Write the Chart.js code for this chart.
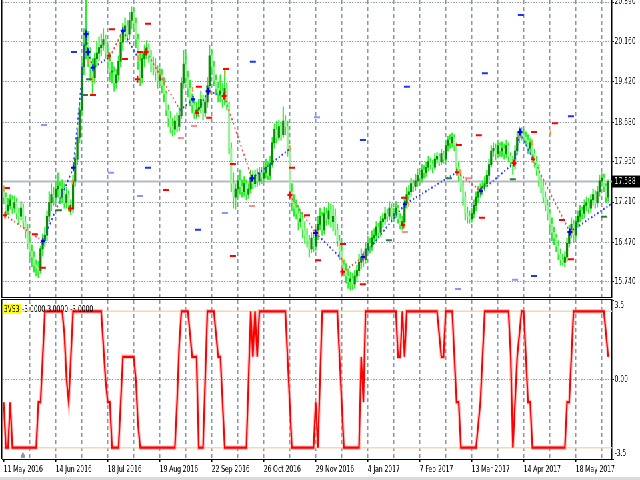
<!DOCTYPE html>
<html>
<head>
<meta charset="utf-8">
<title>3VS3</title>
<script src="https://cdn.jsdelivr.net/npm/chart.js@4.4.1/dist/chart.umd.min.js"></script>
<style>
html,body{margin:0;padding:0;background:#ffffff;width:640px;height:480px;overflow:hidden;}
#wrap{position:absolute;left:0;top:0;width:960px;height:480px;transform:scaleX(0.6666667);transform-origin:0 0;}
#c1{position:absolute;left:0;top:0;width:960px;height:298px;}
#c2{position:absolute;left:0;top:298px;width:960px;height:182px;}
#strip{position:absolute;left:0;top:477px;width:640px;height:3px;background:#dadada;}
</style>
</head>
<body>
<div id="wrap">
<canvas id="c1" width="960" height="298"></canvas>
<canvas id="c2" width="960" height="182"></canvas>
</div>
<div id="strip"></div>
<script>
// ---------- DATA ----------
const dateLabels = ['11 May 2016','14 Jun 2016','18 Jul 2016','19 Aug 2016','22 Sep 2016','26 Oct 2016','29 Nov 2016','4 Jan 2017','7 Feb 2017','13 Mar 2017','14 Apr 2017','18 May 2017'];
const priceTicks = [20.890, 20.160, 19.420, 18.680, 17.950, 17.210, 16.470, 15.740];
const indTicks = [3.5, 0, -3.5];
const currentPrice = 17.588;
const indName = '3VS3';
const indValues = '-3.0000 3.0000 -3.0000';
const levels = [3, -3];

const opens = [17.40,17.30,17.05,17.15,17.25, 17.10,17.20,17.00,16.95,17.10, 16.85,16.70,16.45,16.30,16.20, 16.05,16.00,15.95,16.35,16.50,
16.60,16.95,17.20,17.35,17.30, 17.45,17.50,17.30,17.45,17.20, 17.35,17.15,17.08,17.60,18.00, 18.40,18.90,19.70,20.10,20.25,
19.95,19.70,19.50,19.85,19.95, 20.05,20.10,20.20,19.95,19.80, 19.60,19.60,19.40,19.55,19.80, 20.15,20.35,20.45,20.30,20.55,
20.70,20.50,20.20,19.80,19.50, 19.85,19.95,20.05,19.90,19.75, 19.70,19.60,19.45,19.55,19.35, 19.20,18.90,18.75,18.60,18.55,
18.70,18.60,18.80,19.40,19.75, 19.50,19.30,19.10,19.00,18.85, 18.90,18.95,19.10,18.85,19.05, 19.35,19.90,19.70,19.45,19.30,
19.20,19.25,19.10,19.30,19.00, 18.20,17.55,17.30,17.45,17.60, 17.50,17.40,17.55,17.35,17.45, 17.65,17.55,17.70,17.60,17.75,
17.65,17.75,17.85,17.70,17.90, 18.30,18.55,18.40,18.60,18.45, 18.70,18.60,18.15,17.40,17.20, 17.10,17.00,16.85,16.90,16.70,
16.60,16.50,16.35,16.55,16.40, 16.60,16.80,16.95,16.70,17.00, 16.90,17.05,16.85,16.95,16.70, 16.50,16.30,16.05,15.95,15.85,
15.75,15.80,15.70,15.85,15.95, 16.10,16.20,16.15,16.35,16.45, 16.40,16.55,16.60,16.75,16.65, 16.85,16.90,17.00,16.95,17.10,
16.95,17.00,17.10,16.90,16.80, 16.85,17.20,17.35,17.40,17.55, 17.50,17.60,17.70,17.65,17.80, 17.75,17.85,17.95,17.90,17.85,
18.00,18.05,17.95,18.10,18.00, 18.25,18.35,18.30,18.40,18.25, 17.85,17.70,17.50,17.30,17.00, 16.95,16.90,17.00,17.15,17.30,
17.40,17.45,17.50,17.55,17.70, 17.90,18.15,18.20,18.10,18.25, 18.15,18.20,18.10,18.25,18.05, 17.95,17.90,18.15,18.40,18.50,
18.45,18.40,18.35,18.20,18.30, 18.10,17.95,17.80,17.60,17.50, 17.30,17.15,17.00,16.80,16.65, 16.55,16.40,16.25,16.15,16.10,
16.20,16.45,16.65,16.80,16.60, 16.85,16.95,17.05,17.00,17.15, 17.20,17.10,17.25,17.35,17.20, 17.40,17.60,17.65,17.50,17.30];

const highs = [17.50,17.38,17.28,17.35,17.33, 17.32,17.28,17.10,17.22,17.18, 16.95,16.80,16.60,16.42,16.30, 16.15,16.12,16.40,16.62,16.75,
17.05,17.40,17.55,17.48,17.60, 17.75,17.58,17.62,17.55,17.48, 17.42,17.25,17.70,18.10,18.55, 19.05,19.85,20.40,20.92,20.35,
20.05,19.85,19.95,20.15,20.25, 20.30,20.40,20.28,20.10,19.95, 19.78,19.70,19.65,19.90,20.30, 20.50,20.60,20.55,20.70,20.80,
20.78,20.60,20.30,19.95,19.95, 20.10,20.18,20.12,20.00,19.88, 19.85,19.72,19.68,19.65,19.50, 19.25,19.00,18.88,18.75,18.80,
18.85,18.95,19.50,20.00,19.95, 19.62,19.45,19.20,19.10,19.05, 19.10,19.25,19.18,19.15,19.50, 20.10,20.00,19.80,19.55,19.42,
19.55,19.40,19.65,19.40,19.05, 18.30,17.75,17.55,17.70,17.80, 17.62,17.68,17.62,17.55,17.80, 17.78,17.80,17.82,17.85,17.85,
17.90,18.00,17.95,18.05,18.40, 18.65,18.70,18.72,18.68,18.96, 18.80,18.70,18.25,17.55,17.35, 17.25,17.15,17.05,17.00,16.85,
16.72,16.60,16.65,16.65,16.75, 16.95,17.10,17.02,17.12,17.10, 17.20,17.18,17.15,17.08,16.80, 16.60,16.40,16.15,16.08,15.98,
15.92,15.90,15.95,16.05,16.25, 16.35,16.30,16.45,16.58,16.55, 16.68,16.72,16.85,16.82,16.95, 17.00,17.12,17.08,17.22,17.18,
17.10,17.22,17.15,17.00,16.95, 17.30,17.48,17.52,17.65,17.62, 17.72,17.82,17.78,17.90,17.88, 17.95,18.05,18.02,17.98,18.10,
18.12,18.10,18.18,18.15,18.35, 18.42,18.45,18.48,18.45,18.30, 17.95,17.80,17.60,17.40,17.12, 17.05,17.10,17.25,17.40,17.50,
17.55,17.60,17.68,17.80,18.00, 18.25,18.30,18.28,18.35,18.30, 18.32,18.28,18.35,18.30,18.12, 18.05,18.25,18.50,18.59,18.58,
18.55,18.50,18.45,18.38,18.35, 18.18,18.05,17.90,17.70,17.58, 17.40,17.25,17.08,16.92,16.75, 16.62,16.50,16.35,16.25,16.30,
16.55,16.78,16.92,16.88,16.95, 17.05,17.15,17.12,17.25,17.30, 17.28,17.35,17.45,17.42,17.50, 17.70,17.75,17.72,17.55,17.62];

const lows = [17.18,16.95,16.98,17.08,17.00, 17.02,16.90,16.80,16.88,16.75, 16.55,16.35,16.15,16.02,15.92, 15.85,15.82,15.90,16.22,16.40,
16.50,16.85,17.05,17.15,17.20, 17.30,17.18,17.20,17.10,17.10, 17.05,16.98,17.02,17.50,17.90, 18.30,18.80,19.55,19.85,19.70,
19.45,19.20,19.40,19.70,19.80, 19.90,20.00,19.85,19.65,19.45, 19.40,19.25,19.30,19.45,19.70, 20.00,20.20,20.15,20.20,20.40,
20.35,20.05,19.65,19.35,19.40, 19.70,19.85,19.78,19.60,19.55, 19.45,19.30,19.35,19.22,19.05, 18.80,18.60,18.48,18.42,18.45,
18.50,18.52,18.75,19.30,19.40, 19.15,18.98,18.85,18.75,18.75, 18.78,18.85,18.72,18.78,18.95, 19.25,19.55,19.35,19.18,19.05,
19.05,18.95,19.00,18.90,18.10, 17.40,17.10,17.08,17.30,17.35, 17.30,17.32,17.25,17.28,17.38, 17.45,17.48,17.50,17.52,17.55,
17.58,17.65,17.62,17.62,17.85, 18.20,18.30,18.35,18.35,18.40, 18.45,18.05,17.30,17.05,16.95, 16.90,16.70,16.75,16.55,16.45,
16.38,16.20,16.28,16.30,16.32, 16.52,16.70,16.60,16.62,16.78, 16.80,16.75,16.68,16.60,16.40, 16.15,15.95,15.85,15.72,15.62,
15.59,15.60,15.62,15.75,15.85, 15.98,16.02,16.08,16.25,16.28, 16.32,16.45,16.52,16.55,16.58, 16.75,16.80,16.85,16.88,16.88,
16.85,16.92,16.82,16.72,16.70, 16.80,17.10,17.25,17.32,17.40, 17.42,17.50,17.55,17.58,17.65, 17.68,17.78,17.82,17.75,17.80,
17.92,17.88,17.90,17.92,17.95, 18.15,18.20,18.22,18.15,17.75, 17.60,17.40,17.15,16.88,16.82, 16.82,16.84,16.92,17.05,17.20,
17.30,17.35,17.42,17.48,17.62, 17.85,18.05,17.98,18.02,18.05, 18.05,18.00,18.02,17.95,17.85, 17.72,17.82,18.08,18.30,18.35,
18.30,18.25,18.10,18.12,18.00, 17.85,17.70,17.50,17.38,17.20, 17.05,16.88,16.68,16.50,16.42, 16.30,16.15,16.05,16.05,16.02,
16.12,16.38,16.55,16.48,16.55, 16.75,16.85,16.90,16.92,17.05, 17.00,17.02,17.15,17.10,17.12, 17.32,17.50,17.40,17.20,17.22];

const closes = [17.30,17.05,17.15,17.25,17.10, 17.20,17.00,16.95,17.10,16.85, 16.70,16.45,16.30,16.20,16.05, 16.00,15.95,16.35,16.50,16.60,
16.95,17.20,17.35,17.30,17.45, 17.50,17.30,17.45,17.20,17.35, 17.15,17.08,17.60,18.00,18.40, 18.90,19.70,20.10,20.25,19.95,
19.70,19.50,19.85,19.95,20.05, 20.10,20.20,19.95,19.80,19.60, 19.60,19.40,19.55,19.80,20.15, 20.35,20.45,20.30,20.55,20.70,
20.50,20.20,19.80,19.50,19.85, 19.95,20.05,19.90,19.75,19.70, 19.60,19.45,19.55,19.35,19.20, 18.90,18.75,18.60,18.55,18.70,
18.60,18.80,19.40,19.75,19.50, 19.30,19.10,19.00,18.85,18.90, 18.95,19.10,18.85,19.05,19.35, 19.90,19.70,19.45,19.30,19.20,
19.25,19.10,19.30,19.00,18.20, 17.55,17.30,17.45,17.60,17.50, 17.40,17.55,17.35,17.45,17.65, 17.55,17.70,17.60,17.75,17.65,
17.75,17.85,17.70,17.90,18.30, 18.55,18.40,18.60,18.45,18.70, 18.60,18.15,17.40,17.20,17.10, 17.00,16.85,16.90,16.70,16.60,
16.50,16.35,16.55,16.40,16.60, 16.80,16.95,16.70,17.00,16.90, 17.05,16.85,16.95,16.70,16.50, 16.30,16.05,15.95,15.85,15.75,
15.80,15.70,15.85,15.95,16.10, 16.20,16.15,16.35,16.45,16.40, 16.55,16.60,16.75,16.65,16.85, 16.90,17.00,16.95,17.10,16.95,
17.00,17.10,16.90,16.80,16.85, 17.20,17.35,17.40,17.55,17.50, 17.60,17.70,17.65,17.80,17.75, 17.85,17.95,17.90,17.85,18.00,
18.05,17.95,18.10,18.00,18.25, 18.35,18.30,18.40,18.25,17.85, 17.70,17.50,17.30,17.00,16.95, 16.90,17.00,17.15,17.30,17.40,
17.45,17.50,17.55,17.70,17.90, 18.15,18.20,18.10,18.25,18.15, 18.20,18.10,18.25,18.05,17.95, 17.90,18.15,18.40,18.50,18.45,
18.40,18.35,18.20,18.30,18.10, 17.95,17.80,17.60,17.50,17.30, 17.15,17.00,16.80,16.65,16.55, 16.40,16.25,16.15,16.10,16.20,
16.45,16.65,16.80,16.60,16.85, 16.95,17.05,17.00,17.15,17.20, 17.10,17.25,17.35,17.20,17.40, 17.60,17.65,17.50,17.30,17.588];

const indicator = [-1,-3,-3,-1,
-3,-3,-3,-3,-3,-3,-3,-3,-3,-3,-3,-3,
-1,-1,1,
3,3,3,3,3,3,3,3,3,
2,0,-1,1,
3,3,3,3,3,3,3,3,3,3,3,3,3,3,
1.5,0,-1,-1,
-3,-3,-3,-3,
-1,1,
1,1,1,1,1,
0,-2,
-3,-3,-3,-3,-3,-3,-3,-3,-3,-3,-3,-3,-3,-3,-3,-3,-3,
-1,1.5,
3,3,3,3,
2,
1,1,1,
-3,-3,-3,
0,
3,3,3,3,
2,1,1,-1,
-3,-3,-3,-3,-3,-3,-3,-3,-3,-3,-3,
0,3,1,3,1,
3,3,3,3,3,3,3,3,3,3,3,3,3,
1,-1,
-3,-3,-3,-3,-3,-3,-3,-3,-3,-3,-3,
-1,-3,0,
3,3,3,3,3,3,3,3,
1,-1,
-3,-3,-3,-3,-3,-3,-3,-3,
1,-1,
3,3,3,3,3,3,3,3,3,3,3,3,3,3,3,
1,1,3,1,
3,3,3,3,3,3,3,3,3,3,3,3,3,3,3,
2,1,1,
3,3,3,3,
1,-1,-1,
-3,-3,-3,-3,-3,-3,-3,-3,
-2,-1,1,
3,3,3,3,3,3,3,3,3,3,3,3,
1,-3,-1,1,2,3,3,
1,-1,-1,
-3,-3,-3,-3,-3,-3,-3,-3,-3,-3,-3,-3,-3,-3,-3,-3,
-1,-1,1,
3,3,3,3,3,3,3,3,3,3,3,3,3,3,3,
2,1];

// zigzag legs: [bar, price, bar, price, ...]
const redLegs = [
  [0.6,16.97, 18.1,16.49],
  [49,19.88, 55,20.36],
  [66,19.97, 81.4,18.90],
  [101.7,19.16, 114.6,17.65],
  [132,17.34, 144,16.64],
  [156.6,15.92, 165.8,16.20],
  [209.2,17.76, 220.3,17.41],
  [244.3,18.00, 261.3,16.66]
];
const blueLegs = [
  [18.1,16.49, 32.1,17.84, 38,20.30, 38.9,19.97, 41.2,19.68, 49,19.88],
  [55,20.36, 62,19.86],
  [81.4,18.90, 87.4,19.10],
  [89.2,18.85, 94.3,19.25, 99.8,19.18],
  [114.6,17.65, 132.1,18.19],
  [144,16.64, 156.6,16.14],
  [165.8,16.20, 185.2,17.17, 209.2,17.76],
  [220.3,17.41, 235.5,17.93, 238.3,18.50, 244.3,18.00],
  [261.3,16.66, 280.2,17.17]
];
const redCrosses = [[0.6,16.97],[30.7,17.09],[48.6,19.90],[61.8,19.47],[65.7,19.97],[89.2,18.85],[101.7,19.16],[132.1,17.34],[156.4,15.93],[184.3,16.79],[209.2,17.76],[235.5,17.93],[244.3,18.00]];
const blueCrosses = [[18.1,16.49],[32.1,17.84],[38,20.30],[38.9,19.97],[41.2,19.68],[55,20.36],[87.4,19.10],[94.3,19.25],[114.6,17.65],[144,16.64],[165.8,16.20],[185.2,17.17],[220.3,17.41],[238.3,18.50],[261.3,16.66]];
const orangeMarks = [[0,17.47],[31.8,17.58],[38.9,19.80],[41.2,19.47],[62,19.86],[87.2,19.28],[95.2,19.24],[102.1,19.58],[132.1,18.19],[145.2,16.64],[156.4,16.14],[166.3,16.21],[184.8,16.77],[186.9,17.17],[210.6,17.77],[221,17.42],[236,17.95],[238,18.41],[243.9,18.29],[252.4,18.48],[262.1,16.65]];
const dashRed = [[1.5,17.47],[14.4,16.62],[18.1,16.00],[41.2,19.18],[50,20.39],[66.6,20.49],[62.9,19.97],[56,19.84],[90.1,19.33],[94.8,18.76],[74.9,17.43],[102.6,19.66],[105.8,17.91],[133,17.84],[105.8,16.22],[140,16.97],[145,16.14],[156.6,16.44],[165.8,15.70],[184.7,17.29],[210.1,18.26],[219.3,18.44],[244.7,18.50],[254.4,18.66],[220.7,16.92],[257.6,16.88],[261.8,16.16]];
const dashPink = [[81.8,18.39],[87.8,18.61],[114.6,17.14],[185.2,16.66],[214.3,17.65]];
const dashBlue = [[32.4,19.97],[66.6,17.84],[89.7,16.70],[115,19.79],[165.8,18.35],[186.1,19.33],[261.8,18.79],[244.7,15.85],[238.7,20.65],[222.1,19.58]];
const dashLightBlue = [[18.6,18.63],[49.5,17.75],[62.9,17.32],[144.6,18.77],[102.1,17.01],[236,15.78],[209.7,15.61]];
const dashGreen = [[25.5,17.06],[37.5,19.18],[39.4,19.47],[177.8,16.51],[235,17.63],[277,16.94],[205.5,17.65]];
const shiftMark = [[8.9,-3.35]];

// ---------- STYLE / LAYOUT ----------
Chart.defaults.font.family = '"DejaVu Sans", sans-serif';
Chart.defaults.font.size = 9;
Chart.defaults.color = '#000';
const GRID_COLOR = '#8c97a4';
const X_MIN = -0.554, X_MAX = 280.75;
const GRID_STEP = 12, LABEL_STEP = 24;
const gridTicks = [];
for (let v = 0; v <= X_MAX; v += GRID_STEP) gridTicks.push(v);

const toXY = arr => arr.map(p => ({x: p[0], y: p[1]}));
function polyData(list) {
  const out = [];
  list.forEach(p => {
    for (let k = 0; k < p.length; k += 2) out.push({x: p[k], y: p[k + 1]});
    out.push({x: p[p.length - 2], y: null});
  });
  return out;
}

const idx = closes.map((_, i) => i);
const wickData = idx.map(i => ({x: i, y: [lows[i], highs[i]]}));
const bodyData = idx.map(i => ({x: i, y: [opens[i], closes[i]]}));
const bodyColors = idx.map(i => closes[i] >= opens[i] ? '#078a07' : '#9cf09c');
const indData = idx.map(i => ({x: i, y: indicator[i]}));

function xScale(showLabels) {
  return {
    type: 'linear', min: X_MIN, max: X_MAX, offset: false,
    afterBuildTicks: s => { s.ticks = gridTicks.map(v => ({value: v})); },
    afterFit: s => { s.paddingLeft = 0; s.paddingRight = 0; s.paddingTop = 0; s.paddingBottom = 0; s.height = showLabels ? 21 : 0; },
    grid: {
      offset: false,
      color: c => (c.tick && c.tick.value === 0) ? 'rgba(0,0,0,0)' : GRID_COLOR,
      lineWidth: 1.5,
      drawTicks: showLabels, tickLength: 3, tickWidth: 1.5,
      tickColor: c => (c.tick && c.tick.value % LABEL_STEP === 0) ? '#000' : 'rgba(0,0,0,0)'
    },
    border: {display: showLabels, color: '#000', width: 1, dash: [4, 3]},
    ticks: {
      display: showLabels, autoSkip: false, maxRotation: 0, minRotation: 0,
      align: 'start', padding: 2, color: '#000', font: {size: 9},
      callback: v => (v % LABEL_STEP === 0 && dateLabels[v / LABEL_STEP] !== undefined) ? dateLabels[v / LABEL_STEP] : ''
    }
  };
}

const framePlugin1 = {
  id: 'frame1',
  afterDraw(chart) {
    const {ctx, chartArea: a, scales: {y}} = chart;
    ctx.save();
    ctx.strokeStyle = '#000';
    ctx.lineWidth = 1.5;
    ctx.beginPath(); ctx.moveTo(a.left - 1, 0); ctx.lineTo(a.left - 1, a.bottom + 1); ctx.stroke();
    ctx.lineWidth = 1;
    ctx.beginPath(); ctx.moveTo(a.left - 1.75, a.bottom + 0.5); ctx.lineTo(a.right, a.bottom + 0.5); ctx.stroke();
    const py = y.getPixelForValue(currentPrice);
    ctx.fillStyle = '#000';
    ctx.fillRect(a.right, py - 6, 42, 12);
    ctx.fillStyle = '#fff';
    ctx.font = '9px "DejaVu Sans"';
    ctx.textBaseline = 'middle';
    ctx.textAlign = 'left';
    ctx.fillText(currentPrice.toFixed(3), a.right + 4, py + 0.5);
    ctx.restore();
  }
};

const framePlugin2 = {
  id: 'frame2',
  afterDraw(chart) {
    const {ctx, chartArea: a} = chart;
    ctx.save();
    ctx.strokeStyle = '#000';
    ctx.lineWidth = 1;
    ctx.beginPath(); ctx.moveTo(a.left - 1.75, 1.5); ctx.lineTo(a.right, 1.5); ctx.stroke();
    ctx.lineWidth = 1.5;
    ctx.beginPath(); ctx.moveTo(a.left - 1, 1); ctx.lineTo(a.left - 1, a.bottom); ctx.stroke();
    ctx.font = '9px "DejaVu Sans"';
    ctx.textBaseline = 'middle';
    ctx.textAlign = 'left';
    const w = ctx.measureText(indName).width;
    ctx.fillStyle = '#ffff00';
    ctx.fillRect(a.left, 6, w + 4, 10);
    ctx.fillStyle = '#000';
    ctx.fillText(indName, a.left + 2, 11.5);
    ctx.fillText(indValues, a.left + w + 6, 11.5);
    ctx.restore();
  }
};

function pts(data, style, radius, bw, color, order, rot) {
  return {type: 'line', data: toXY(data), showLine: false, pointStyle: style, pointRadius: radius,
    pointBorderWidth: bw, pointBorderColor: color, pointBackgroundColor: color, pointRotation: rot || 0, order: order};
}

new Chart(document.getElementById('c1'), {
  type: 'bar',
  data: {
    datasets: [
      {type: 'line', data: [{x: X_MIN, y: currentPrice}, {x: X_MAX, y: currentPrice}], borderColor: '#b3bac2', borderWidth: 2, pointRadius: 0, order: 10},
      {type: 'bar', data: wickData, backgroundColor: '#2aee2a', barThickness: 1.5, grouped: false, order: 9},
      {type: 'bar', data: bodyData, backgroundColor: bodyColors, barThickness: 2.6, grouped: false, minBarLength: 1, order: 8},
      {type: 'line', data: polyData(redLegs), borderColor: '#ff4a4a', borderWidth: 2, borderDash: [2, 3], pointRadius: 0, spanGaps: false, order: 5},
      {type: 'line', data: polyData(blueLegs), borderColor: '#2f3fff', borderWidth: 2, borderDash: [2, 3], pointRadius: 0, spanGaps: false, order: 5},
      pts(dashRed, 'line', 4.5, 2, '#ff0000', 3),
      pts(dashPink, 'line', 4.5, 2, '#ff8c8c', 3),
      pts(dashBlue, 'line', 4.5, 2, '#1e32ff', 3),
      pts(dashLightBlue, 'line', 4.5, 2, '#8a94ff', 3),
      pts(dashGreen, 'line', 4.5, 2, '#2f7a3a', 3),
      pts(orangeMarks, 'line', 2.5, 2.5, '#f0a030', 2, 90),
      pts(redCrosses, 'cross', 3.5, 2, '#ff0000', 1),
      pts(blueCrosses, 'cross', 3.5, 2, '#0000ff', 1)
    ]
  },
  options: {
    responsive: false, animation: false, events: [],
    layout: {padding: {left: 3.75, right: 0, top: 0, bottom: 1}, autoPadding: false},
    plugins: {legend: {display: false}, tooltip: {enabled: false}},
    scales: {
      x: xScale(false),
      y: {
        type: 'linear', position: 'right', min: 15.464, max: 20.927,
        afterBuildTicks: s => { s.ticks = priceTicks.map(v => ({value: v})); },
        afterFit: s => { s.width = 42; s.paddingTop = 0; s.paddingBottom = 0; },
        grid: {color: GRID_COLOR, lineWidth: 1, drawTicks: true, tickLength: 3, tickColor: '#000', tickWidth: 1},
        border: {display: true, color: '#000', width: 1.5, dash: [2, 2]},
        ticks: {padding: 1, color: '#000', font: {size: 9}, callback: v => v.toFixed(3)}
      }
    }
  },
  plugins: [framePlugin1]
});

new Chart(document.getElementById('c2'), {
  type: 'line',
  data: {
    datasets: [
      {data: [{x: X_MIN, y: levels[0]}, {x: X_MAX, y: levels[0]}], borderColor: '#f5d8ac', borderWidth: 1.5, pointRadius: 0, order: 5},
      {data: [{x: X_MIN, y: levels[1]}, {x: X_MAX, y: levels[1]}], borderColor: '#f5d8ac', borderWidth: 1.5, pointRadius: 0, order: 5},
      {data: indData, borderColor: 'rgba(255,130,130,0.5)', borderWidth: 4.5, pointRadius: 0, order: 4},
      {data: indData, borderColor: '#ff0000', borderWidth: 2.2, pointRadius: 0, order: 3},
      {data: toXY(shiftMark), showLine: false, pointStyle: 'triangle', pointRadius: 3.5, pointBorderWidth: 1, pointBorderColor: '#8896a4', pointBackgroundColor: '#8896a4', clip: false, order: 1}
    ]
  },
  options: {
    responsive: false, animation: false, events: [],
    layout: {padding: {left: 3.75, right: 0, top: 2, bottom: 0}, autoPadding: false},
    plugins: {legend: {display: false}, tooltip: {enabled: false}},
    scales: {
      x: xScale(true),
      y: {
        type: 'linear', position: 'right', min: -3.5, max: 3.5,
        afterBuildTicks: s => { s.ticks = indTicks.map(v => ({value: v})); },
        afterFit: s => { s.width = 42; s.paddingTop = 0; s.paddingBottom = 0; },
        grid: {color: c => (c.tick && c.tick.value === 0) ? GRID_COLOR : 'rgba(0,0,0,0)', lineWidth: 1, drawTicks: true, tickLength: 3, tickColor: '#000', tickWidth: 1},
        border: {display: true, color: '#000', width: 1.5, dash: [2, 2]},
        ticks: {
          padding: 1, color: '#000', font: {size: 9},
          callback: v => v === indTicks[0] ? ['', v.toFixed(1)] : (v === indTicks[2] ? [v.toFixed(1), ''] : v.toFixed(2))
        }
      }
    }
  },
  plugins: [framePlugin2]
});
</script>
</body>
</html>
